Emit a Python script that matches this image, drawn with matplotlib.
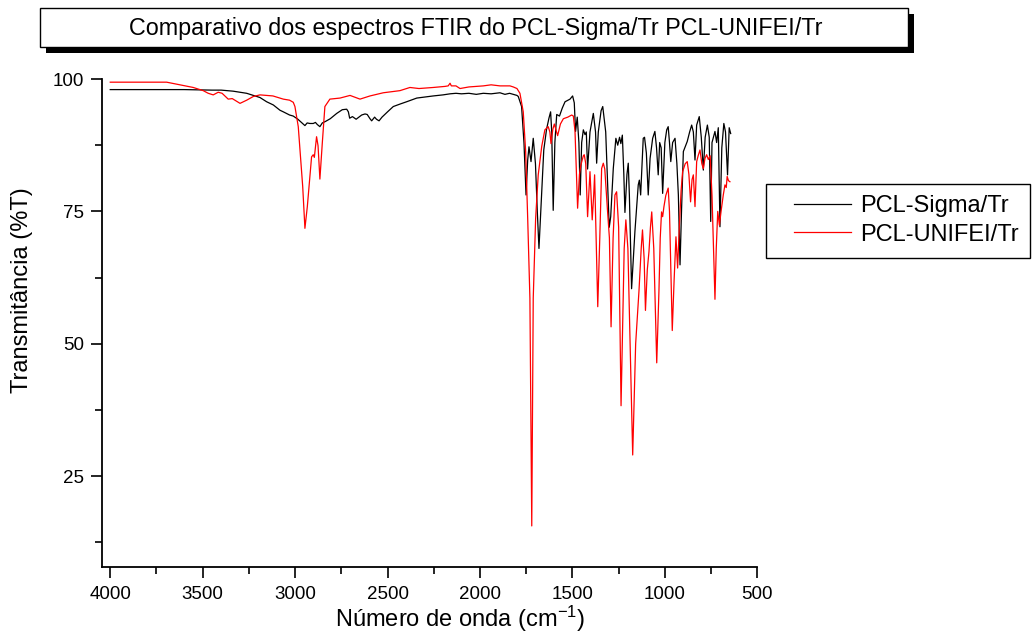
import matplotlib
matplotlib.use("Agg")
import matplotlib.pyplot as plt
from matplotlib.patches import Rectangle
from matplotlib.ticker import MultipleLocator

plt.rcParams['font.family'] = ['Liberation Sans', 'DejaVu Sans']
plt.rcParams['mathtext.fontset'] = 'custom'
plt.rcParams['mathtext.rm'] = 'Liberation Sans'
plt.rcParams['mathtext.it'] = 'Liberation Sans:italic'

# ---- FTIR spectra (wavenumber in cm-1, transmittance in %T) ----
sigma_wn = [4000, 3800, 3600, 3450, 3400, 3335, 3262, 3190, 3154, 3118, 3082, 3064,
            3030, 3010, 2985, 2960, 2947, 2935, 2920, 2902, 2890, 2880, 2866, 2853,
            2835, 2810, 2775, 2745, 2721, 2712, 2705, 2690, 2670, 2640, 2622, 2610,
            2595, 2586, 2570, 2560, 2546, 2530, 2500, 2469, 2430, 2397, 2342, 2253,
            2200, 2162, 2130, 2100, 2060, 2020, 1982, 1940, 1892, 1865, 1840, 1820,
            1800, 1793, 1775, 1762, 1751, 1742, 1735, 1724, 1712, 1700, 1690, 1681,
            1670, 1655, 1640, 1627, 1618, 1612, 1604, 1595, 1585, 1570, 1555, 1540,
            1513, 1499, 1490, 1483, 1474, 1465, 1458, 1450, 1441, 1432, 1425, 1418,
            1405, 1387, 1375, 1369, 1360, 1345, 1336, 1320, 1301, 1293, 1279, 1265,
            1255, 1245, 1238, 1230, 1222, 1216, 1205, 1198, 1192, 1180, 1162, 1144,
            1138, 1131, 1117, 1110, 1100, 1090, 1080, 1066, 1054, 1045, 1036, 1028,
            1020, 1012, 1000, 990, 982, 975, 968, 958, 945, 935, 927, 918,
            910, 900, 879, 866, 855, 846, 837, 828, 814, 803, 792, 782,
            770, 760, 752, 745, 729, 720, 711, 702, 692, 681, 672, 661,
            652, 644]
sigma_t = [98.0, 98.0, 98.0, 97.9, 97.9, 97.7, 97.3, 96.5, 95.7, 95.1, 94.1, 93.8,
           93.2, 93.0, 92.4, 91.6, 91.2, 91.7, 91.6, 91.6, 91.8, 91.4, 91.0, 91.7,
           92.0, 92.5, 93.5, 94.2, 94.3, 93.8, 92.6, 92.9, 92.4, 93.2, 93.4, 93.3,
           92.5, 92.1, 92.8, 92.4, 92.1, 92.8, 93.8, 94.8, 95.3, 95.7, 96.4, 96.8,
           97.0, 97.2, 97.3, 97.2, 97.3, 97.1, 97.3, 97.2, 97.4, 97.1, 97.3, 97.1,
           96.9, 96.7, 94.8, 87.9, 78.1, 84.7, 87.2, 84.4, 88.8, 84.0, 75.0, 68.0,
           76.0, 86.6, 90.5, 92.6, 93.8, 90.0, 75.2, 88.0, 93.3, 93.0, 94.5, 95.7,
           96.2, 96.8, 95.5, 90.1, 92.8, 88.0, 78.1, 88.0, 90.4, 89.5, 90.0, 83.0,
           90.0, 93.5, 90.0, 84.1, 90.0, 94.0, 94.8, 90.0, 72.0, 74.0, 83.1, 88.8,
           87.5, 89.0, 87.8, 89.4, 82.0, 74.8, 82.0, 84.1, 78.1, 60.4, 71.2, 80.0,
           80.9, 78.1, 88.8, 89.0, 86.0, 78.1, 85.0, 88.8, 90.1, 87.0, 81.9, 88.0,
           87.0, 78.4, 88.0, 90.4, 91.0, 88.0, 84.4, 88.0, 88.8, 84.0, 78.1, 64.9,
           75.0, 86.3, 88.2, 90.0, 91.3, 90.0, 84.7, 91.3, 92.9, 89.0, 82.8, 89.0,
           91.3, 89.0, 73.1, 88.0, 90.1, 88.0, 90.8, 72.1, 87.0, 91.6, 90.0, 81.9,
           90.8, 89.7]

unifei_wn = [4000, 3850, 3695, 3623, 3551, 3497, 3470, 3443, 3416, 3395, 3362, 3340,
             3298, 3262, 3226, 3190, 3120, 3064, 3030, 3010, 3001, 2983, 2959, 2947,
             2934, 2916, 2911, 2902, 2896, 2884, 2876, 2866, 2853, 2839, 2812, 2757,
             2703, 2649, 2595, 2523, 2433, 2379, 2330, 2253, 2190, 2172, 2162, 2155,
             2130, 2108, 2060, 1982, 1940, 1892, 1838, 1820, 1800, 1784, 1766, 1753,
             1742, 1730, 1720, 1712, 1699, 1685, 1666, 1649, 1631, 1622, 1616, 1606,
             1598, 1580, 1565, 1549, 1525, 1504, 1495, 1486, 1472, 1462, 1454, 1441,
             1436, 1428, 1418, 1405, 1393, 1385, 1380, 1372, 1363, 1352, 1342, 1333,
             1325, 1310, 1300, 1291, 1280, 1270, 1261, 1250, 1237, 1225, 1220, 1211,
             1200, 1185, 1174, 1158, 1140, 1128, 1121, 1112, 1105, 1095, 1086, 1078,
             1071, 1060, 1044, 1032, 1025, 1018, 1012, 1005, 995, 982, 975, 960,
             950, 940, 931, 922, 912, 904, 890, 879, 870, 861, 853, 846,
             837, 828, 820, 810, 800, 792, 783, 774, 765, 755, 745, 729,
             722, 714, 705, 696, 684, 675, 668, 663, 656, 648]
unifei_t = [99.4, 99.4, 99.4, 98.9, 98.4, 97.8, 97.3, 97.0, 97.5, 97.3, 96.2, 96.3,
            95.4, 96.0, 96.7, 97.0, 96.8, 96.2, 96.0, 95.6, 94.8, 91.0, 79.7, 71.8,
            75.9, 83.4, 85.3, 85.7, 85.2, 89.1, 87.4, 81.1, 87.9, 94.8, 96.2, 96.4,
            96.9, 96.2, 96.8, 97.4, 97.8, 98.4, 98.2, 98.4, 98.6, 98.7, 99.2, 98.7,
            98.7, 98.2, 98.5, 98.7, 98.9, 98.7, 98.7, 98.5, 98.2, 97.3, 93.8, 86.3,
            73.7, 58.6, 15.6, 58.6, 73.7, 81.9, 87.3, 90.4, 91.0, 90.0, 87.8, 90.5,
            91.5, 89.3, 91.5, 92.5, 92.8, 93.2, 93.0, 90.1, 75.6, 82.0, 83.8, 85.5,
            85.7, 84.0, 74.0, 82.5, 73.4, 78.1, 81.9, 70.0, 57.0, 70.0, 83.1, 84.1,
            83.0, 75.0, 70.0, 53.2, 70.0, 78.1, 78.7, 72.0, 38.3, 60.0, 68.0, 73.4,
            68.0, 45.0, 29.0, 50.0, 60.0, 68.0, 71.5, 66.0, 56.3, 64.0, 67.4, 72.0,
            74.9, 68.0, 46.4, 60.0, 70.0, 74.9, 74.0, 75.9, 78.0, 79.4, 75.0, 52.5,
            62.0, 70.2, 64.3, 72.0, 79.0, 82.5, 84.0, 84.4, 82.0, 76.8, 81.0, 81.9,
            75.9, 84.4, 85.5, 86.6, 84.0, 83.1, 85.0, 85.7, 84.8, 85.5, 78.0, 58.4,
            68.0, 75.0, 72.4, 75.0, 78.1, 80.0, 79.5, 81.6, 80.8, 80.6]

series_labels = ['PCL-Sigma/Tr', 'PCL-UNIFEI/Tr']
x_ticks = [4000, 3500, 3000, 2500, 2000, 1500, 1000, 500]
y_ticks = [25, 50, 75, 100]
title_text = 'Comparativo dos espectros FTIR do PCL-Sigma/Tr PCL-UNIFEI/Tr'

W, H = 1035, 635
fig = plt.figure(figsize=(W / 100, H / 100), dpi=100)
fig.patch.set_facecolor('white')


def fx(px):
    return px / W


def fy(py):
    return 1 - py / H


ax = fig.add_axes([fx(102.3), fy(566.7), fx(757.3) - fx(102.3), fy(79) - fy(566.7)])

ax.plot(sigma_wn, sigma_t, color='black', lw=0.9, label=series_labels[0])
ax.plot(unifei_wn, unifei_t, color='#ff0000', lw=0.9, label=series_labels[1])

ax.set_xlim(4043, 500)
ax.set_ylim(7.9, 100)
ax.set_xticks(x_ticks)
ax.set_yticks(y_ticks)
ax.xaxis.set_minor_locator(MultipleLocator(250))
ax.yaxis.set_minor_locator(MultipleLocator(12.5))
ax.tick_params(axis='both', which='major', direction='out', length=8, width=1.2,
               labelsize=13.5, pad=5)
ax.tick_params(axis='both', which='minor', direction='out', length=5, width=1.2)
ax.tick_params(axis='x', which='major', pad=6)
for s in ('top', 'right'):
    ax.spines[s].set_visible(False)
for s in ('left', 'bottom'):
    ax.spines[s].set_linewidth(1.3)

fig.text(fx(460), fy(619), r'Número de onda (cm$^{\mathregular{-1}}$)', fontsize=17,
         ha='center', va='center')
fig.text(fx(22), fy(290), 'Transmitância (%T)', fontsize=17, rotation=90,
         ha='center', va='center')

# Title box with drop shadow
fig.add_artist(Rectangle((fx(46), fy(53)), fx(914) - fx(46), fy(14) - fy(53),
                         transform=fig.transFigure, facecolor='black',
                         edgecolor='black', lw=0))
fig.add_artist(Rectangle((fx(40), fy(47)), fx(908) - fx(40), fy(8) - fy(47),
                         transform=fig.transFigure, facecolor='white',
                         edgecolor='black', lw=1.0))
fig.text(fx(476), fy(28), title_text, fontsize=16.8, ha='center', va='center')

# Legend: plain frame outline, entries placed inside it
fig.add_artist(Rectangle((fx(766), fy(258)), fx(1030) - fx(766), fy(184) - fy(258),
                         transform=fig.transFigure, facecolor='none',
                         edgecolor='black', lw=1.0))
leg = ax.legend(loc='upper left', bbox_to_anchor=(fx(794), fy(195)),
                bbox_transform=fig.transFigure, borderaxespad=0, frameon=False,
                fontsize=17, handlelength=2.4, handletextpad=0.38,
                labelspacing=0.28, borderpad=0)

fig.savefig('out.png', dpi=100, facecolor='white')
